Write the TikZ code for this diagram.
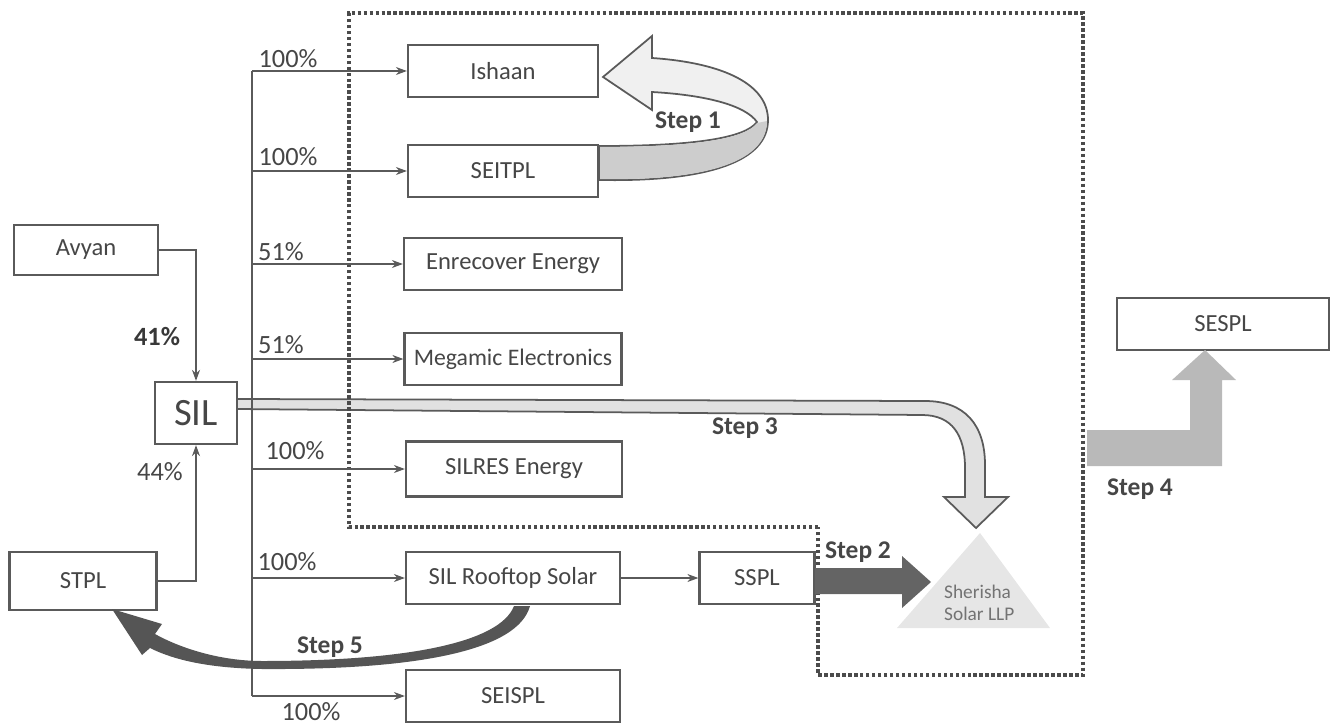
\documentclass[tikz,border=0pt]{standalone}
\usepackage{fontspec}
\setmainfont{Carlito}
\usetikzlibrary{arrows.meta,positioning,calc}
\definecolor{boxgray}{RGB}{90,90,90}
\definecolor{textgray}{RGB}{70,70,70}
\definecolor{darkfill}{RGB}{100,100,100}
\definecolor{lightfill}{RGB}{205,205,205}
\definecolor{paleshade}{RGB}{230,230,230}
\definecolor{framegray}{RGB}{75,75,75}

\begin{document}
\begin{tikzpicture}[x=0.02cm,y=-0.02cm,
  entity/.style={draw=boxgray,line width=1.3pt,fill=white,minimum height=1.05cm,
                 font=\fontsize{14}{16}\selectfont,text=textgray,align=center,inner sep=1pt},
  pct/.style={font=\fontsize{15}{17}\selectfont,text=textgray},
  steplbl/.style={font=\fontsize{14.5}{17}\selectfont\bfseries,text=textgray},
  link/.style={draw=boxgray,line width=0.8pt,-{Stealth[length=2.2mm,width=1.6mm]}},
  frame/.style={draw=framegray,line width=2.3pt,dash pattern=on 2pt off 1.4pt}
]
  \useasboundingbox (0,0) rectangle (1337,726);
  % Step 3 (behind the lines)
  \filldraw[fill=lightfill!60!white,draw=boxgray,line width=1pt]
    (237,399) -- (925,401) .. controls (965,401) and (985,425) .. (985,465)
    -- (985,497) -- (1008,497) -- (976,528) -- (944,497) -- (965,497)
    -- (965,468) .. controls (965,435) and (952,415) .. (922,415) -- (237,409) -- cycle;
  % Dotted frame
  \draw[frame] (818,527) -- (349,527) -- (349,13) -- (1083,13) -- (1083,675) -- (818,675) -- cycle;
  % Companies
  \node[entity,minimum width=3.8cm] (ishaan) at (503,71) {Ishaan};
  \node[entity,minimum width=3.8cm] (seitpl) at (503,171) {SEITPL};
  \node[entity,minimum width=4.36cm] (enrecover) at (513,264) {Enrecover Energy};
  \node[entity,minimum width=4.34cm,font=\fontsize{13.5}{15}\selectfont] (megamic) at (513,359) {Megamic Electronics};
  \node[entity,minimum width=4.32cm,minimum height=1.1cm] (silres) at (514,469) {SILRES Energy};
  \node[entity,minimum width=4.28cm] (rooftop) at (513,578) {SIL Rooftop Solar};
  \node[entity,minimum width=4.28cm] (seispl) at (513,696) {SEISPL};
  \node[entity,minimum width=2.3cm] (sspl) at (757,578) {SSPL};
  \node[entity,minimum width=4.24cm] (sespl) at (1223,324) {SESPL};
  \node[entity,minimum width=2.88cm,minimum height=1.0cm] (avyan) at (86,250) {Avyan};
  \node[entity,minimum width=1.64cm,minimum height=1.24cm,font=\fontsize{22}{24}\selectfont] (sil) at (196,413) {SIL};
  \node[entity,minimum width=2.94cm,minimum height=1.16cm] (stpl) at (83,581) {STPL};
  % Holdings of SIL
  \coordinate (bustop) at (252,71);
  \coordinate (busbot) at (252,696);
  \draw[boxgray,line width=0.8pt] (bustop) -- (busbot);
  \foreach \co in {ishaan,seitpl,enrecover,megamic,silres,rooftop,seispl}
    \draw[link] (\co.west -| bustop) -- (\co.west);
  \node[pct] (p1) at (288,59) {100\%};
  \node[pct] (p2) at (288,157) {100\%};
  \node[pct] (p3) at (281,252) {51\%};
  \node[pct] (p4) at (281,345) {51\%};
  \node[pct] (p5) at (295,451) {100\%};
  \node[pct] (p6) at (287,562) {100\%};
  \node[pct] (p7) at (311,712) {100\%};
  % Shareholders of SIL
  \draw[link] (avyan.east) -| (sil.north);
  \draw[link] (stpl.east) -| (sil.south);
  \node[pct,font=\fontsize{15}{17}\selectfont\bfseries,text=black!78] (p41) at (157,337) {41\%};
  \node[pct] (p44) at (160,472) {44\%};
  \draw[link] (rooftop) -- (sspl);
  % Sherisha Solar LLP
  \fill[paleshade] (980,533) -- (1050,628) -- (897,628) -- cycle;
  \node[font=\fontsize{11}{12.5}\selectfont,text=black!55,align=left,anchor=west] (sherisha) at (938,603) {Sherisha\\Solar LLP};
  % Step 1
  \filldraw[fill=white!88!gray,draw=boxgray,line width=1pt]
    (600,146) -- (600,180) .. controls (712,182) and (768,160) .. (768,120)
    .. controls (768,85) and (725,63) .. (652,58) -- (652,36) -- (603,77) -- (652,110)
    -- (652,92) .. controls (705,95) and (745,105) .. (757,122)
    .. controls (745,138) and (695,146) .. (600,146) -- cycle;
  \fill[lightfill] (600,147) -- (600,179) .. controls (712,181) and (767,160) .. (767,121)
    -- (757,123) .. controls (745,139) and (695,147) .. (600,147) -- cycle;
  % Step 2
  \fill[darkfill] (815,568) -- (902,568) -- (902,556) -- (931,582) -- (902,608) -- (902,594) -- (815,594) -- cycle;
  % Step 4
  \fill[gray!55] (1087,430) -- (1190,430) -- (1190,380) -- (1172,380) -- (1205,350)
    -- (1236,380) -- (1222,380) -- (1222,466) -- (1087,466) -- cycle;
  % Step 5
  \fill[darkfill!85!black] (530,606) .. controls (518,650) and (420,670) .. (262,669)
    .. controls (200,668) and (168,657) .. (150,648) -- (142,655) -- (112,609) -- (162,624)
    -- (155,634) .. controls (180,648) and (220,661) .. (262,661)
    .. controls (410,661) and (500,642) .. (514,606) -- cycle;
  % Step labels
  \node[steplbl] (s1) at (688,122) {Step 1};
  \node[steplbl] (s2) at (858,552) {Step 2};
  \node[steplbl] (s3) at (745,428) {Step 3};
  \node[steplbl] (s4) at (1140,489) {Step 4};
  \node[steplbl] (s5) at (330,647) {Step 5};
\end{tikzpicture}
\end{document}
